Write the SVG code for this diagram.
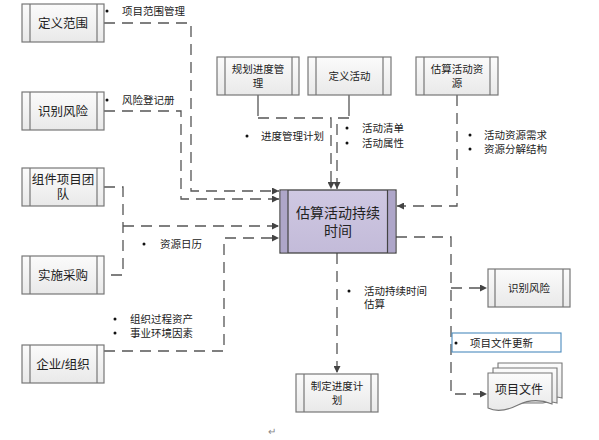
<svg xmlns="http://www.w3.org/2000/svg" width="599" height="440" viewBox="0 0 599 440">
<style>
text{font-family:"Liberation Sans","Noto Sans CJK SC",sans-serif;fill:#222;}
.box{fill:url(#g);stroke:#777;stroke-width:1.2;}
.in{stroke:#777;stroke-width:1.2;}
.lb{font-size:12.5px;text-anchor:middle;}
.ls{font-size:10.5px;text-anchor:middle;}
.t{font-size:10.5px;}
.d{fill:none;stroke:#555;stroke-width:1.3;stroke-dasharray:11 7;}
.s{fill:none;stroke:#555;stroke-width:1.3;}
.dot{fill:#111;}
</style>
<defs>
<linearGradient id="g" x1="0" y1="0" x2="0" y2="1"><stop offset="0" stop-color="#fbfbfb"/><stop offset="1" stop-color="#e9e9e9"/></linearGradient>
<linearGradient id="gp" x1="0" y1="0" x2="0" y2="1"><stop offset="0" stop-color="#cfc8e2"/><stop offset="1" stop-color="#c3bbd9"/></linearGradient>
<marker id="a" viewBox="0 0 10 10" refX="10" refY="5" markerWidth="7" markerHeight="7" markerUnits="userSpaceOnUse" orient="auto"><path d="M0,0 L10,5 L0,10 Z" fill="#444"/></marker>
</defs>
<rect width="599" height="440" fill="#fff"/>

<g id="connectors">
<path class="d" d="M104,23 H191 V191 H279" marker-end="url(#a)"/>
<path class="d" d="M104,111 H181 V199 H279" marker-end="url(#a)"/>
<path class="d" d="M104,187 H123 V275 H104"/>
<path class="d" d="M123,226 H279" marker-end="url(#a)"/>
<path class="d" d="M104,351 H224 V238 H279" marker-end="url(#a)"/>
<path class="s" d="M258,95 V116"/>
<path class="d" d="M258,118 H331 V189" marker-end="url(#a)"/>
<path class="s" d="M349,95 V116"/>
<path class="d" d="M349,118 H337 V189" marker-end="url(#a)"/>
<path class="d" d="M457,95 V206 H397" marker-end="url(#a)"/>
<path class="d" d="M396,237 H451 V394 H487" marker-end="url(#a)"/>
<path class="d" d="M451,288 H487" marker-end="url(#a)"/>
<path class="d" d="M337,253 V373" marker-end="url(#a)"/>
</g>

<g id="n-dyfw"><rect class="box" x="22" y="4" width="82" height="38"/><path class="in" d="M30,4V42M97,4V42"/><text class="lb" x="63" y="27.5">定义范围</text></g>
<g id="n-sbfx"><rect class="box" x="22" y="92" width="82" height="38"/><path class="in" d="M30,92V130M97,92V130"/><text class="lb" x="63" y="115.5">识别风险</text></g>
<g id="n-zjxmtd"><rect class="box" x="22" y="168" width="82" height="38"/><path class="in" d="M30,168V206M97,168V206"/><text class="lb" x="63" y="184">组件项目团</text><text class="lb" x="63" y="199">队</text></g>
<g id="n-sscg"><rect class="box" x="22" y="256" width="82" height="38"/><path class="in" d="M30,256V294M97,256V294"/><text class="lb" x="63" y="279.5">实施采购</text></g>
<g id="n-qyzz"><rect class="box" x="22" y="345" width="82" height="38"/><path class="in" d="M30,345V383M97,345V383"/><text class="lb" x="63" y="368.5">企业/组织</text></g>

<g id="n-ghjdgl"><rect class="box" x="217" y="57" width="82" height="38"/><path class="in" d="M225,57V95M292,57V95"/><text class="ls" x="258" y="73">规划进度管</text><text class="ls" x="258" y="87">理</text></g>
<g id="n-dyhd"><rect class="box" x="308" y="57" width="83" height="38"/><path class="in" d="M316,57V95M383,57V95"/><text class="ls" x="349.5" y="79.5">定义活动</text></g>
<g id="n-gshdzy"><rect class="box" x="416" y="57" width="82" height="38"/><path class="in" d="M424,57V95M490,57V95"/><text class="ls" x="457" y="73">估算活动资</text><text class="ls" x="457" y="87">源</text></g>

<g id="n-center"><rect x="280" y="190" width="116" height="63" fill="url(#gp)" stroke="#444" stroke-width="1.3"/><rect x="280.7" y="190.7" width="7.5" height="61.6" fill="#aea6c9"/><rect x="387.8" y="190.7" width="7.5" height="61.6" fill="#aea6c9"/><path d="M288,190V253M387.5,190V253" stroke="#444" stroke-width="1.2"/><text x="338" y="218" font-size="14" text-anchor="middle">估算活动持续</text><text x="338" y="236" font-size="14" text-anchor="middle">时间</text></g>

<g id="n-sbfx2"><rect class="box" x="488" y="269" width="82" height="38"/><path class="in" d="M495,269V307M563,269V307"/><text class="ls" x="529" y="292">识别风险</text></g>
<g id="n-zdjdjh"><rect class="box" x="296" y="374" width="82" height="38"/><path class="in" d="M304,374V412M371,374V412"/><text class="ls" x="337" y="390">制定进度计</text><text class="ls" x="337" y="404">划</text></g>

<g id="n-xmwj">
<path d="M498,363 H562 V398 C555,396 552,397 548,398 L498,398 Z" fill="url(#g)" stroke="#777" stroke-width="1.1"/>
<path d="M493,368 H557 V403 C550,401 547,402 543,403 L493,403 Z" fill="url(#g)" stroke="#777" stroke-width="1.1"/>
<path d="M488,373 H552 V404 C540,399 528,400 518,405 C506,411 496,412 488,408 Z" fill="url(#g)" stroke="#777" stroke-width="1.1"/>
<text x="519" y="394" font-size="12" text-anchor="middle">项目文件</text>
</g>

<g id="labels">
<circle class="dot" cx="107" cy="11" r="1.5"/><text class="t" x="122" y="15">项目范围管理</text>
<circle class="dot" cx="107" cy="100" r="1.5"/><text class="t" x="122" y="104">风险登记册</text>
<circle class="dot" cx="247" cy="136" r="1.5"/><text class="t" x="261" y="140">进度管理计划</text>
<circle class="dot" cx="347" cy="128" r="1.5"/><text class="t" x="362" y="132">活动清单</text>
<circle class="dot" cx="347" cy="143" r="1.5"/><text class="t" x="362" y="147">活动属性</text>
<circle class="dot" cx="470" cy="135" r="1.5"/><text class="t" x="484" y="139">活动资源需求</text>
<circle class="dot" cx="470" cy="149" r="1.5"/><text class="t" x="484" y="153">资源分解结构</text>
<circle class="dot" cx="144" cy="244" r="1.5"/><text class="t" x="160" y="248">资源日历</text>
<circle class="dot" cx="115" cy="319" r="1.5"/><text class="t" x="130" y="323">组织过程资产</text>
<circle class="dot" cx="115" cy="333" r="1.5"/><text class="t" x="130" y="337">事业环境因素</text>
<circle class="dot" cx="349" cy="291" r="1.5"/><text class="t" x="364" y="295">活动持续时间</text><text class="t" x="364" y="308">估算</text>
<rect x="452" y="333" width="109" height="19" fill="#fff" stroke="#4b8bbd" stroke-width="1.1"/>
<circle class="dot" cx="456" cy="343" r="1.5"/><text class="t" x="470" y="347">项目文件更新</text>
<text x="268" y="435" font-size="10" fill="#888" style="fill:#888">↵</text>
</g>
</svg>
